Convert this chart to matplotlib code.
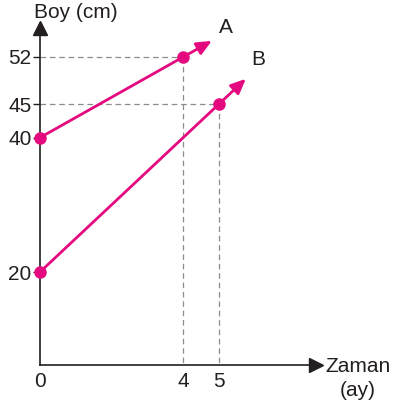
import matplotlib
matplotlib.use('Agg')
import matplotlib.pyplot as plt
import numpy as np

# data
ay = [0, 4, 5]                 # Zaman (ay)
boy_yticks = [20, 40, 45, 52]  # Boy (cm)
a_x = [0, 4]
a_y = [40, 52]
b_x = [0, 5]
b_y = [20, 45]
names = ['A', 'B']

pink = '#e5097f'
grey = '#8c8c8c'
dark = '#231f20'

plt.rcParams['font.family'] = ['Liberation Sans', 'DejaVu Sans']

fig = plt.figure(figsize=(3.94, 4.07), dpi=100)
W, H = 394, 407
kx, ky = 35.8, 6.72
ax = fig.add_axes([40 / W, (H - 365) / H, 276 / W, 337 / H])
ax.set_xlim(0, 276 / kx)
ax.set_ylim(20 - 93 / ky, 20 + 244 / ky)

for s in ['top', 'right']:
    ax.spines[s].set_visible(False)
for s in ['left', 'bottom']:
    ax.spines[s].set_color(dark)
    ax.spines[s].set_linewidth(1.2)

# axis arrows
ax.plot(1, 0, '>', color=dark, markersize=10, transform=ax.transAxes, clip_on=False)
ax.plot(0, 1, '^', color=dark, markersize=10, transform=ax.transAxes, clip_on=False)

# dashed guide lines
ymin = ax.get_ylim()[0]
for xs, ys in [(a_x, a_y), (b_x, b_y)]:
    ax.plot([0, xs[1]], [ys[1], ys[1]], color=grey, lw=0.9, dashes=(4.5, 3))
    ax.plot([xs[1], xs[1]], [ys[1], ymin], color=grey, lw=0.9, dashes=(4.5, 3))

# the two lines with arrows
ext = [0.8, 0.75]
offs = [(5, 3), (4, 7)]
for (xs, ys), e, name, off in zip([(a_x, a_y), (b_x, b_y)], ext, names, offs):
    slope = (ys[1] - ys[0]) / (xs[1] - xs[0])
    tip = (xs[1] + e, ys[1] + slope * e)
    ax.plot(xs, ys, color=pink, lw=2, zorder=3)
    ax.annotate('', xy=tip, xytext=(xs[1], ys[1]),
                arrowprops=dict(arrowstyle='-|>,head_length=0.9,head_width=0.4',
                                color=pink, lw=2, shrinkA=0, shrinkB=0), zorder=3)
    ax.plot(xs, ys, 'o', color=pink, markersize=8, zorder=4, clip_on=False)
    ax.annotate(name, xy=tip, xytext=off, textcoords='offset points',
                fontsize=15, color=dark, ha='left', va='bottom')

ax.set_xticks(ay)
ax.set_xticklabels([str(v) for v in ay], fontsize=15, color=dark)
ax.set_yticks(boy_yticks)
ax.set_yticklabels([str(v) for v in boy_yticks], fontsize=15, color=dark)
ax.tick_params(axis='x', length=0, pad=5)
ax.tick_params(axis='y', length=5, width=1, color=dark, pad=1)

fig.text(34 / W, 1 - 12 / H, 'Boy (cm)', fontsize=15, color=dark, ha='left', va='center')
fig.text(325 / W, 1 - 367 / H, 'Zaman', fontsize=15, color=dark, ha='left', va='center')
fig.text(358 / W, 1 - 391 / H, '(ay)', fontsize=15, color=dark, ha='center', va='center')

plt.savefig('out.png', dpi=100)
